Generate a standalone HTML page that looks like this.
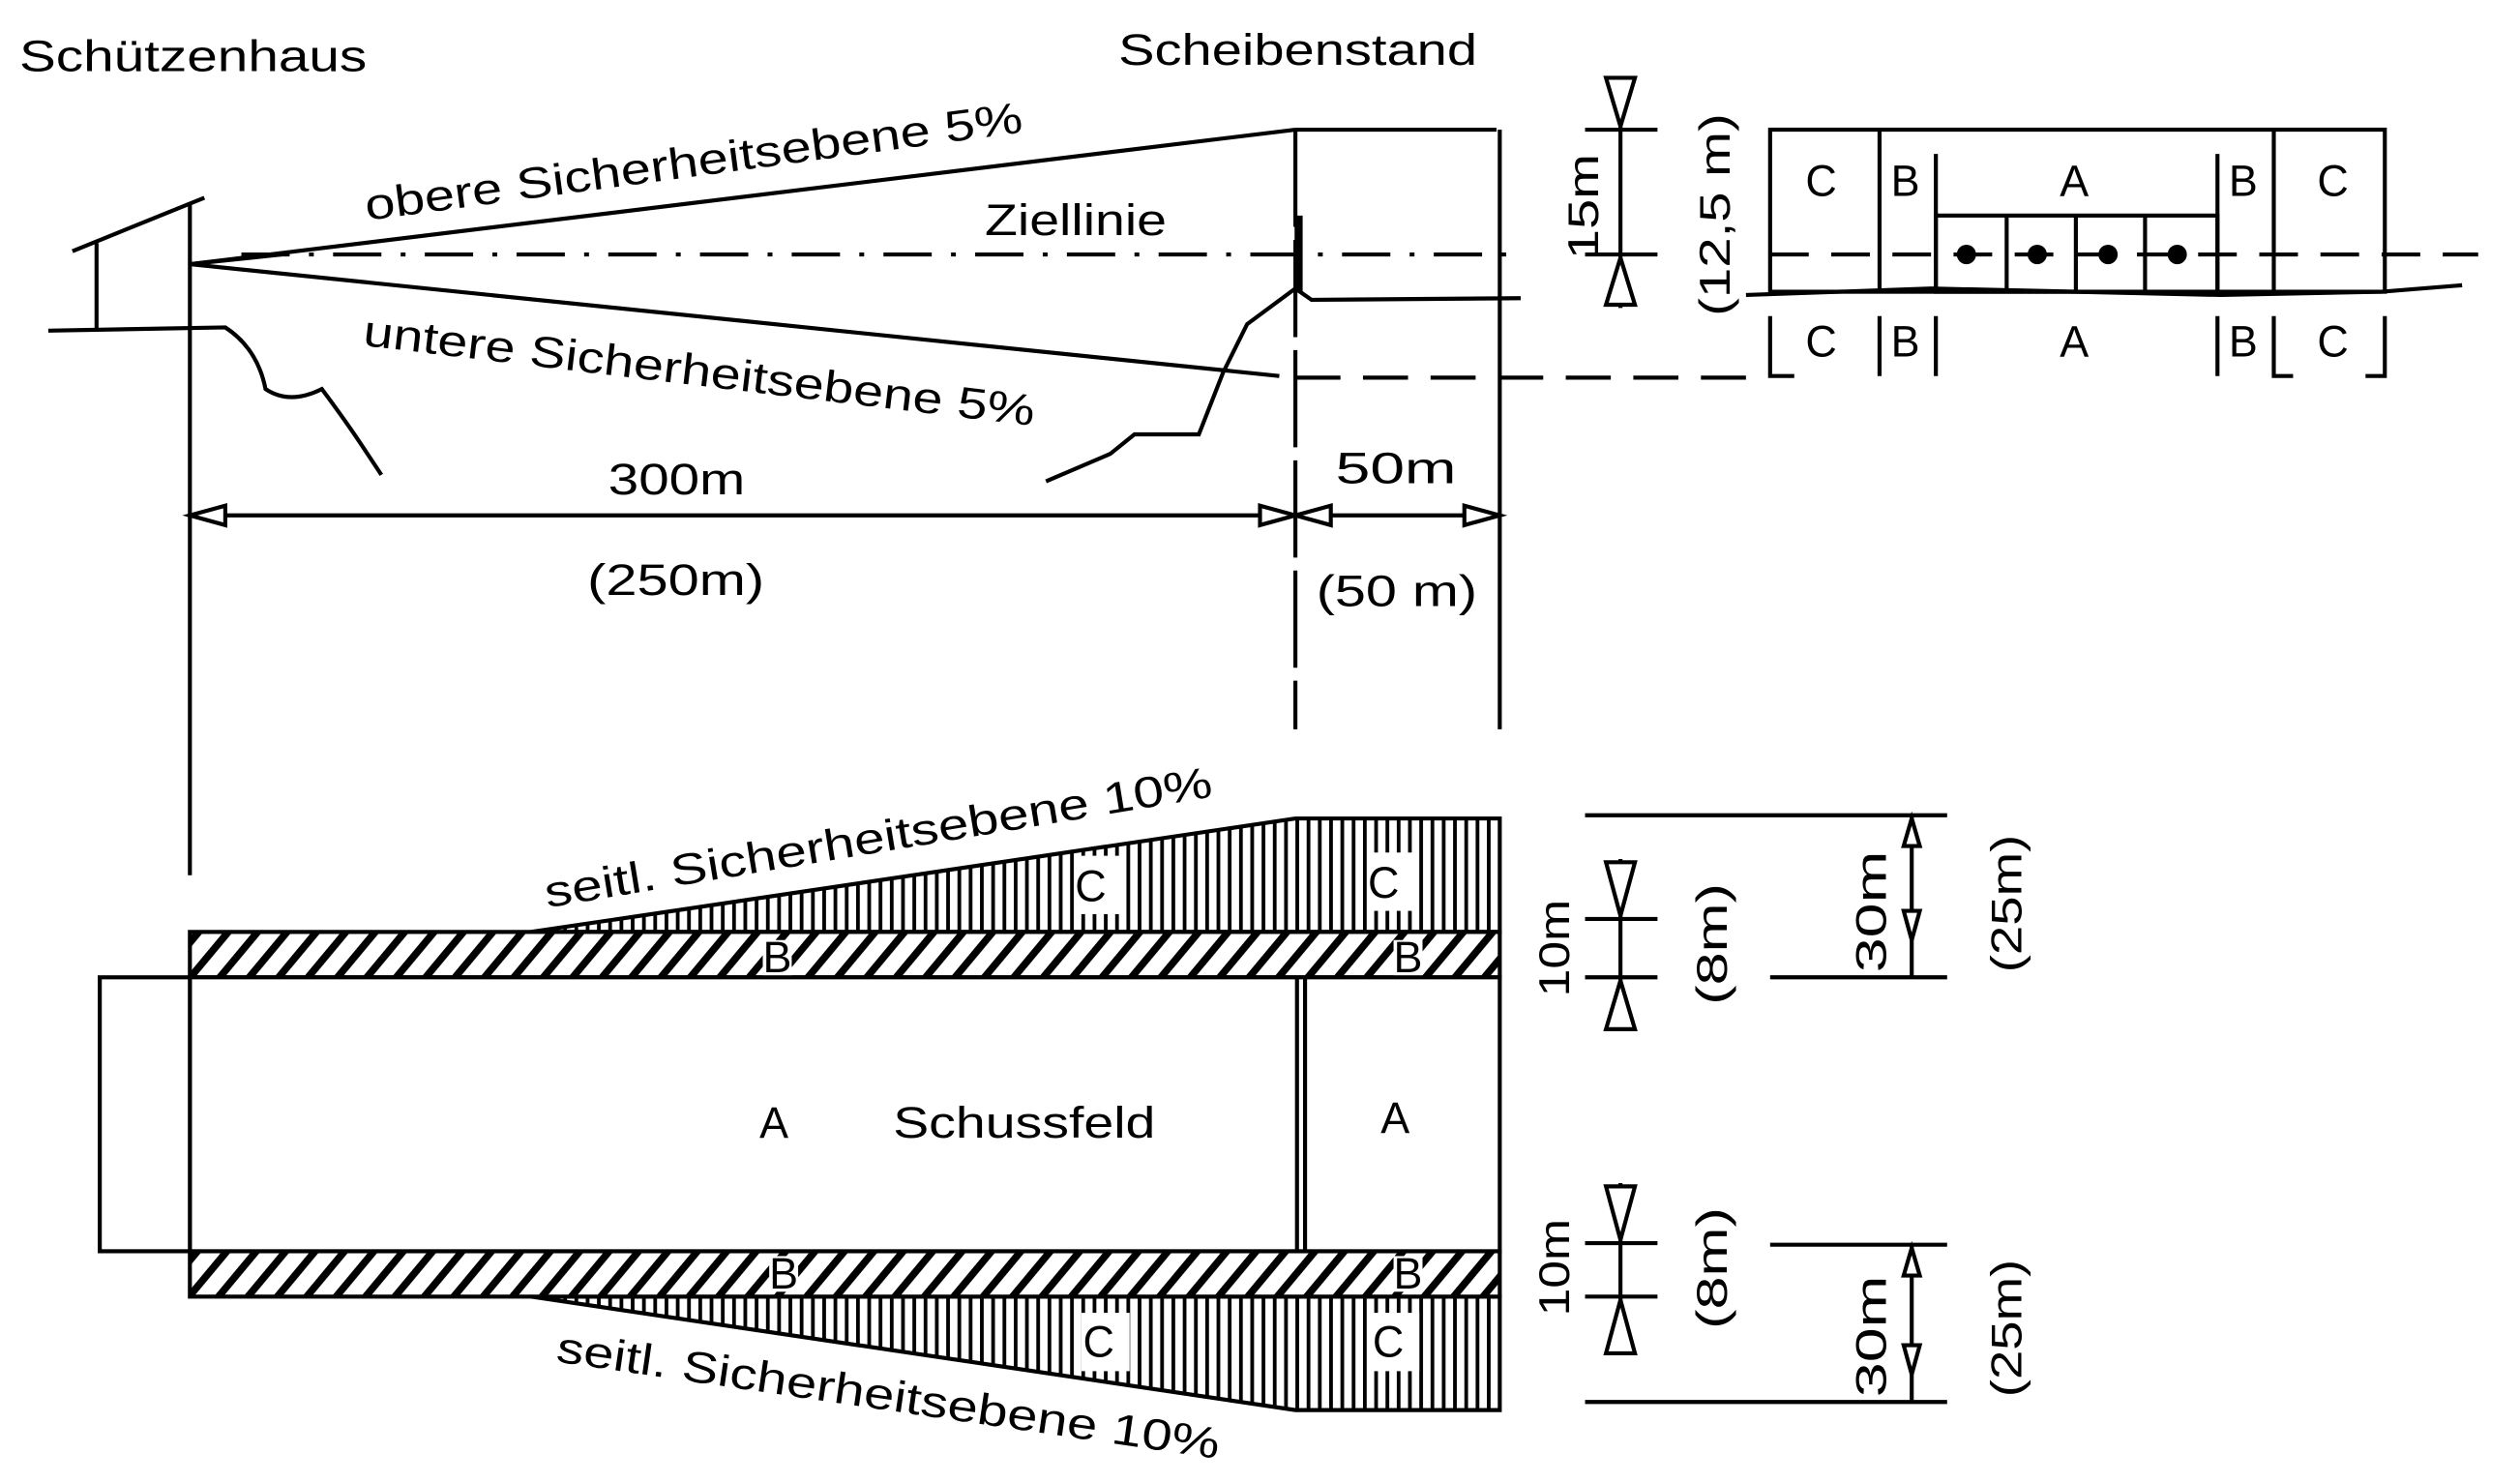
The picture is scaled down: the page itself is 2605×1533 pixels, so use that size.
<!DOCTYPE html>
<html><head><meta charset="utf-8"><style>html,body{margin:0;padding:0;background:#fff}svg{display:block}text{font-family:"Liberation Sans",sans-serif;fill:#000}</style></head>
<body>
<svg width="2605" height="1533" viewBox="0 0 1566 915" preserveAspectRatio="none" xmlns="http://www.w3.org/2000/svg">
<defs>
<pattern id="diag" width="14" height="14" patternUnits="userSpaceOnUse" patternTransform="rotate(40)"><rect width="14" height="14" fill="#fff"/><rect width="4.5" height="14" fill="#000"/></pattern>
<pattern id="vert" width="7" height="10" patternUnits="userSpaceOnUse"><rect width="7" height="10" fill="#fff"/><rect width="2.3" height="10" fill="#000"/></pattern>
</defs>
<g stroke="#000" stroke-width="2.5" fill="none">
<line x1="60" y1="150" x2="60" y2="203"/><line x1="118" y1="125" x2="118" y2="540"/>
<line x1="45" y1="155" x2="127" y2="122"/>
<path d="M30 204 L140 202 Q160 215 165 240 Q180 250 200 240 Q215 260 225 275 L237 293"/>
<line x1="118" y1="163" x2="805" y2="80"/><line x1="805" y1="80" x2="930" y2="80"/>
<line x1="118" y1="163" x2="795" y2="232"/>
<line x1="118" y1="163" x2="175" y2="157"/>
<line x1="150" y1="157" x2="940" y2="157" stroke-dasharray="30 12 3 12"/>
<line x1="805" y1="80" x2="805" y2="450" stroke-dasharray="60 8"/>
<line x1="932" y1="80" x2="932" y2="450"/>
<line x1="805" y1="233" x2="1090" y2="233" stroke-dasharray="28 14"/>
<path d="M650 297 L690 280 L705 268 L745 268 L760 230 L775 200 L805 178 L815 185 L945 184"/>
<line x1="807" y1="133" x2="807" y2="180" stroke-width="5"/>
<line x1="118" y1="318" x2="932" y2="318"/>
<path d="M118 318 L140 312 L140 324Z M805 318 L783 312 L783 324Z M805 318 L827 312 L827 324Z M932 318 L910 312 L910 324Z" fill="#fff"/>
<line x1="1007" y1="48" x2="1007" y2="190"/>
<line x1="985" y1="80" x2="1030" y2="80"/><line x1="985" y1="157" x2="1030" y2="157"/>
<path d="M998 48 L1016 48 L1007 78Z M998 188 L1016 188 L1007 159Z" fill="#fff"/>
<rect x="1100" y="80" width="382" height="100"/>
<line x1="1168" y1="80" x2="1168" y2="180"/><line x1="1203" y1="95" x2="1203" y2="180"/>
<line x1="1378" y1="95" x2="1378" y2="180"/><line x1="1413" y1="80" x2="1413" y2="180"/>
<rect x="1203" y="133" width="175" height="47"/>
<line x1="1247" y1="133" x2="1247" y2="180"/><line x1="1290" y1="133" x2="1290" y2="180"/><line x1="1333" y1="133" x2="1333" y2="180"/>
<line x1="1100" y1="157" x2="1540" y2="157" stroke-dasharray="24 14"/>
<path d="M1085 182 L1200 178 L1380 182 L1480 180 L1530 176"/>
<path d="M1100 195 V232 H1115 M1168 195 V232 M1203 195 V232 M1378 195 V232 M1413 195 V232 H1425 M1482 195 V232 H1470"/>
</g>
<g fill="#000"><circle cx="1222" cy="157" r="6"/><circle cx="1266" cy="157" r="6"/><circle cx="1310" cy="157" r="6"/><circle cx="1353" cy="157" r="6"/></g>
<polygon points="330,575 805,505 932,505 932,575" fill="url(#vert)" stroke="#000" stroke-width="2.5"/>
<polygon points="330,800 805,870 932,870 932,800" fill="url(#vert)" stroke="#000" stroke-width="2.5"/>
<rect x="118" y="575" width="814" height="28" fill="url(#diag)" stroke="#000" stroke-width="2.5"/>
<rect x="118" y="772" width="814" height="28" fill="url(#diag)" stroke="#000" stroke-width="2.5"/>
<rect x="668" y="528" width="30" height="36" fill="#fff"/><rect x="850" y="526" width="30" height="36" fill="#fff"/>
<rect x="672" y="810" width="30" height="36" fill="#fff"/><rect x="852" y="810" width="30" height="36" fill="#fff"/>
<rect x="474" y="580" width="18" height="22" fill="#fff"/><rect x="866" y="580" width="18" height="22" fill="#fff"/>
<rect x="478" y="775" width="18" height="22" fill="#fff"/><rect x="866" y="775" width="18" height="22" fill="#fff"/>
<g stroke="#000" stroke-width="2.5" fill="none">
<rect x="118" y="603" width="814" height="169" fill="#fff"/>
<rect x="62" y="603" width="56" height="169" fill="#fff"/>
<line x1="806" y1="603" x2="806" y2="772"/><line x1="811" y1="603" x2="811" y2="772"/>
<line x1="1007" y1="530" x2="1007" y2="635"/><line x1="985" y1="567" x2="1030" y2="567"/><line x1="985" y1="603" x2="1030" y2="603"/>
<path d="M998 532 L1016 532 L1007 565Z M998 635 L1016 635 L1007 605Z" fill="#fff"/>
<line x1="985" y1="503" x2="1210" y2="503"/><line x1="1100" y1="603" x2="1210" y2="603"/>
<line x1="1188" y1="503" x2="1188" y2="603"/>
<path d="M1183 522 L1193 522 L1188 505Z M1183 562 L1193 562 L1188 580Z" fill="#fff"/>
<line x1="1007" y1="730" x2="1007" y2="835"/><line x1="985" y1="767" x2="1030" y2="767"/><line x1="985" y1="800" x2="1030" y2="800"/>
<path d="M998 732 L1016 732 L1007 765Z M998 835 L1016 835 L1007 802Z" fill="#fff"/>
<line x1="1100" y1="768" x2="1210" y2="768"/><line x1="985" y1="865" x2="1210" y2="865"/>
<line x1="1188" y1="768" x2="1188" y2="865"/>
<path d="M1183 787 L1193 787 L1188 770Z M1183 830 L1193 830 L1188 848Z" fill="#fff"/>
</g>
<g font-size="27">
<text x="12" y="44" textLength="216" lengthAdjust="spacingAndGlyphs">Schützenhaus</text>
<text x="695" y="40" textLength="223" lengthAdjust="spacingAndGlyphs">Scheibenstand</text>
<text x="228" y="136" transform="rotate(-7.6 228 136)" textLength="412" lengthAdjust="spacingAndGlyphs">obere Sicherheitsebene 5%</text>
<text x="612" y="145" textLength="113" lengthAdjust="spacingAndGlyphs">Ziellinie</text>
<text x="225" y="213" transform="rotate(6.8 225 213)" textLength="420" lengthAdjust="spacingAndGlyphs">untere Sicherheitsebene 5%</text>
<text x="378" y="305" textLength="85" lengthAdjust="spacingAndGlyphs">300m</text>
<text x="365" y="367" textLength="110" lengthAdjust="spacingAndGlyphs">(250m)</text>
<text x="830" y="298" textLength="75" lengthAdjust="spacingAndGlyphs">50m</text>
<text x="818" y="374" textLength="100" lengthAdjust="spacingAndGlyphs">(50 m)</text>
<text x="1122" y="121">C</text><text x="1175" y="121">B</text><text x="1280" y="121">A</text><text x="1385" y="121">B</text><text x="1440" y="121">C</text>
<text x="1122" y="220">C</text><text x="1175" y="220">B</text><text x="1280" y="220">A</text><text x="1385" y="220">B</text><text x="1440" y="220">C</text>
<text x="340" y="560" transform="rotate(-9.4 340 560)" textLength="420" lengthAdjust="spacingAndGlyphs">seitl. Sicherheitsebene 10%</text>
<text x="345" y="840" transform="rotate(8.3 345 840)" textLength="416" lengthAdjust="spacingAndGlyphs">seitl. Sicherheitsebene 10%</text>
<text x="668" y="556">C</text><text x="850" y="554">C</text>
<text x="474" y="600">B</text><text x="866" y="600">B</text>
<text x="478" y="795">B</text><text x="866" y="795">B</text>
<text x="673" y="837">C</text><text x="853" y="837">C</text>
<text x="472" y="702">A</text><text x="555" y="702" textLength="163" lengthAdjust="spacingAndGlyphs">Schussfeld</text><text x="858" y="699">A</text>
<text transform="translate(993 160) rotate(-90)" textLength="65" lengthAdjust="spacingAndGlyphs">15m</text>
<text transform="translate(1075 195) rotate(-90)" textLength="125" lengthAdjust="spacingAndGlyphs">(12,5 m)</text>
<text transform="translate(975 615) rotate(-90)" textLength="60" lengthAdjust="spacingAndGlyphs">10m</text>
<text transform="translate(1073 620) rotate(-90)" textLength="75" lengthAdjust="spacingAndGlyphs">(8m)</text>
<text transform="translate(1172 600) rotate(-90)" textLength="75" lengthAdjust="spacingAndGlyphs">30m</text>
<text transform="translate(1256 600) rotate(-90)" textLength="85" lengthAdjust="spacingAndGlyphs">(25m)</text>
<text transform="translate(975 812) rotate(-90)" textLength="60" lengthAdjust="spacingAndGlyphs">10m</text>
<text transform="translate(1073 820) rotate(-90)" textLength="75" lengthAdjust="spacingAndGlyphs">(8m)</text>
<text transform="translate(1172 862) rotate(-90)" textLength="75" lengthAdjust="spacingAndGlyphs">30m</text>
<text transform="translate(1256 862) rotate(-90)" textLength="85" lengthAdjust="spacingAndGlyphs">(25m)</text>
</g>
</svg>
</body></html>
